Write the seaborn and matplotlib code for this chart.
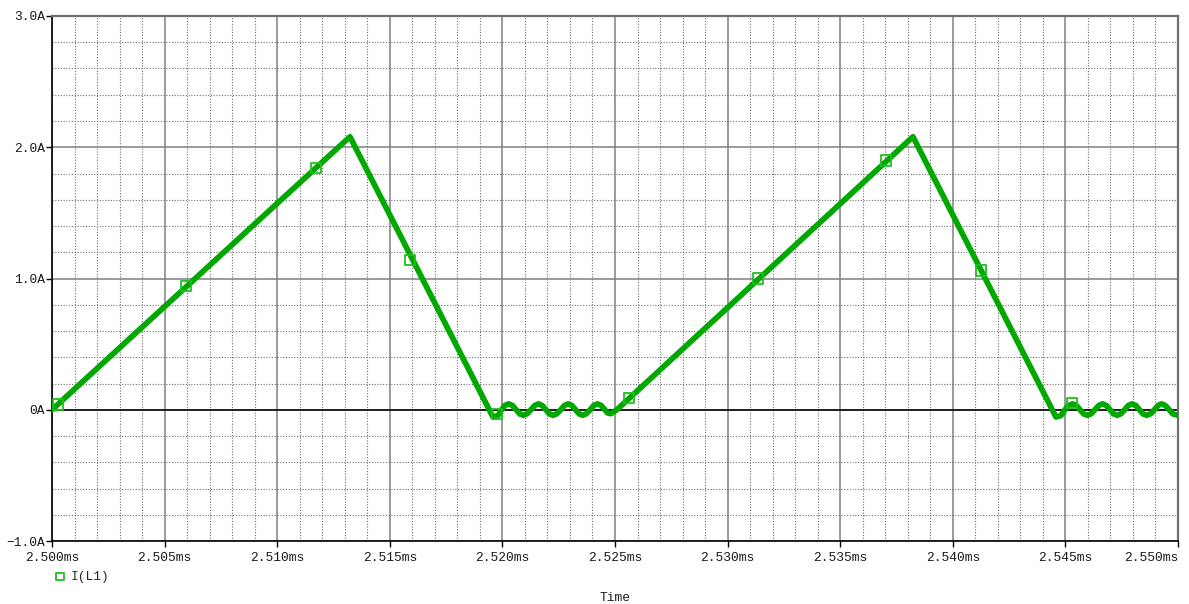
import pandas as pd
import matplotlib
matplotlib.use("Agg")
import matplotlib.pyplot as plt
from matplotlib.ticker import MultipleLocator
import seaborn as sns

# ---------------------------------------------------------
# Daten, Zeit in us nach 2.500 ms
# ---------------------------------------------------------
t_us = [
    0.00, 13.23, 19.58,
    19.80, 19.97, 20.10, 20.28, 20.45, 20.61, 20.77, 20.94, 21.10, 21.27,
    21.43, 21.60, 21.77, 21.93, 22.09, 22.26, 22.42, 22.59, 22.75, 22.92,
    23.09, 23.25, 23.41, 23.57, 23.73, 23.90, 24.05, 24.22, 24.39, 24.55,
    24.68, 24.82, 24.95, 25.08,
    38.23, 44.58,
    44.80, 44.98, 45.13, 45.32, 45.49, 45.65, 45.81, 45.98, 46.15, 46.31,
    46.48, 46.65, 46.82, 46.98, 47.14, 47.30, 47.47, 47.63, 47.79, 47.96,
    48.13, 48.29, 48.45, 48.62, 48.79, 48.95, 49.11, 49.27, 49.44, 49.61,
    49.77, 49.95, 50.00,
]
i_amp = [
    0.000, 2.080, -0.055,
    -0.045, 0.000, 0.032, 0.045, 0.032, 0.000, -0.032, -0.042, -0.030, 0.000,
    0.032, 0.045, 0.032, 0.000, -0.032, -0.042, -0.030, 0.000, 0.032, 0.045,
    0.032, 0.000, -0.032, -0.042, -0.030, 0.000, 0.032, 0.045, 0.032, 0.000,
    -0.025, -0.030, -0.015, 0.000,
    2.080, -0.055,
    -0.045, 0.000, 0.032, 0.045, 0.032, 0.000, -0.032, -0.042, -0.030, 0.000,
    0.032, 0.045, 0.032, 0.000, -0.032, -0.042, -0.030, 0.000, 0.032, 0.045,
    0.032, 0.000, -0.032, -0.042, -0.030, 0.000, 0.032, 0.045, 0.032, 0.000,
    -0.032, -0.040, -0.038,
]

# Marker-Positionen auf der Kurve
marker_t_us = [0.27, 5.95, 11.72, 15.90, 19.76, 25.62, 31.35, 37.03, 41.25, 45.29]
marker_i = [0.04, 0.945, 1.84, 1.14, -0.03, 0.09, 1.00, 1.90, 1.06, 0.05]

x_ticks = [2.500, 2.505, 2.510, 2.515, 2.520, 2.525, 2.530, 2.535, 2.540, 2.545, 2.550]
x_labels = ["2.500ms", "2.505ms", "2.510ms", "2.515ms", "2.520ms", "2.525ms",
            "2.530ms", "2.535ms", "2.540ms", "2.545ms", "2.550ms"]
y_ticks = [-1.0, 0.0, 1.0, 2.0, 3.0]
y_labels = ["\u22121.0A", "0A", "1.0A", "2.0A", "3.0A"]

series_name = "I(L1)"

# ---------------------------------------------------------
# Vorbereitung
# ---------------------------------------------------------
df = pd.DataFrame({"t_us": t_us, "I": i_amp})
df["time_ms"] = 2.5 + df["t_us"] / 1000.0
mk = pd.DataFrame({"t_us": marker_t_us, "I": marker_i})
mk["time_ms"] = 2.5 + mk["t_us"] / 1000.0

# ---------------------------------------------------------
# Plot
# ---------------------------------------------------------
sns.set_style("white")
plt.rcParams["font.family"] = ["Liberation Mono", "DejaVu Sans Mono"]

green = "#00a800"
grid_gray = "#808080"

fig = plt.figure(figsize=(11.89, 6.04), dpi=100)
ax = fig.add_axes([52 / 1189, 63 / 604, 1126 / 1189, 525 / 604])

sns.lineplot(data=df, x="time_ms", y="I", sort=False, estimator=None,
             color=green, linewidth=4.1, ax=ax, zorder=4,
             solid_joinstyle="round", solid_capstyle="round")
sns.scatterplot(data=mk, x="time_ms", y="I", marker="s", s=55,
                facecolor="none", edgecolor="#1fbf1f", linewidth=1.3,
                ax=ax, zorder=5, label=series_name)

ax.set_xlim(2.500, 2.550)
ax.set_ylim(-1.0, 3.0)

ax.xaxis.set_minor_locator(MultipleLocator(0.001))
ax.yaxis.set_minor_locator(MultipleLocator(0.2))
ax.grid(which="major", color=grid_gray, linestyle="-", linewidth=1.1, zorder=1)
ax.grid(which="minor", color="#707070", linestyle=(0, (1, 1.5)), linewidth=0.8, zorder=1)
ax.axhline(0, color="black", linewidth=1.1, zorder=2)
ax.set_axisbelow(True)

ax.set_xticks(x_ticks)
ax.set_xticklabels(x_labels)
ax.set_yticks(y_ticks)
ax.set_yticklabels(y_labels)
ax.tick_params(which="major", direction="out", length=4, width=1, color="black",
               labelsize=9.3, labelcolor="#1a1a1a", pad=1,
               bottom=True, left=True)
ax.tick_params(axis="x", pad=4)
ax.tick_params(which="minor", length=0)

# letzte Beschriftung rechtsbuendig, damit sie nicht abgeschnitten wird
ax.get_xticklabels()[-1].set_horizontalalignment("right")

for side in ["left", "bottom"]:
    ax.spines[side].set_color("black")
    ax.spines[side].set_linewidth(1.2)
for side in ["top", "right"]:
    ax.spines[side].set_color("#707070")
    ax.spines[side].set_linewidth(1.6)
    ax.spines[side].set_visible(True)

ax.set_xlabel("Time", fontsize=9.3, color="#1a1a1a", labelpad=20)
ax.set_ylabel("")

ax.legend_.remove()
h, l = ax.get_legend_handles_labels()
fig.legend(h, l, loc="center left", bbox_to_anchor=(50 / 1189, 1 - 577 / 604),
           frameon=False, handlelength=0.6, handletextpad=0.5, markerscale=0.75,
           borderpad=0, prop={"size": 9.3})

plt.savefig("out.png", dpi=100)
print("[INFO] out.png gespeichert.")
